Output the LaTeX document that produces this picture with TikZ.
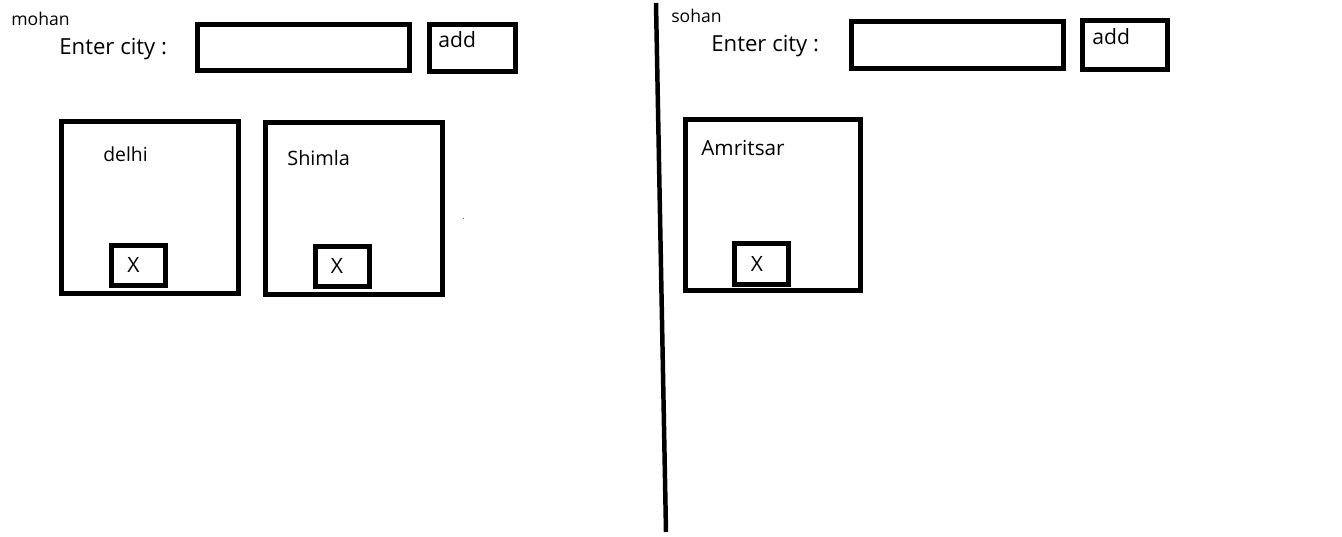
\documentclass[tikz,border=0pt]{standalone}
\usepackage{fontspec}
\setmainfont{Open Sans}
\begin{document}
\begin{tikzpicture}
[
	x=0.02cm,
	y=-0.02cm,
	frame/.style={draw,line width=2.55pt},
	usertext/.style={anchor=base west,inner sep=0pt,font=\fontsize{10}{12}\selectfont},
	fieldtext/.style={anchor=base west,inner sep=0pt,font=\fontsize{12.6}{15}\selectfont},
	citytext/.style={anchor=base west,inner sep=0pt,font=\fontsize{11.8}{14}\selectfont},
	closetext/.style={inner sep=0pt,font=\fontsize{12}{14}\selectfont}
]

	\useasboundingbox (0,0) rectangle (1342,537);

	% mohan panel
	\node[usertext] (mohan) at (11,26) {mohan};
	\node[fieldtext] (enterL) at (59,55) {Enter city :};
	\draw[frame] (197.5,24.5) rectangle (409.5,70.5);
	\draw[frame] (429.5,24.5) rectangle (515.5,71.5);
	\node[fieldtext,font=\fontsize{12}{14}\selectfont] (addL) at (438,48) {add};

	\draw[frame] (61.5,121.5) rectangle (238.5,293.5);
	\node[citytext,font=\fontsize{11}{13}\selectfont] (delhi) at (103,161) {delhi};
	\draw[frame] (111.5,245.5) rectangle (165.5,285.5);
	\node[closetext] (delhiX) at (133.5,264.5) {X};

	\draw[frame] (265.5,122.5) rectangle (442.5,294.5);
	\node[citytext,font=\fontsize{11.3}{13}\selectfont] (shimla) at (287,165) {Shimla};
	\draw[frame] (315.5,246.5) rectangle (369.5,286.5);
	\node[closetext] (shimlaX) at (337,265.5) {X};

	\fill[black!60] (462.5,217.5) rectangle (464,219);

	% divider
	\draw[line width=2.55pt] (656,3) -- (666,532);

	% sohan panel
	\node[usertext] (sohan) at (671,23) {sohan};
	\node[fieldtext] (enterR) at (711,52) {Enter city :};
	\draw[frame] (851.5,21.5) rectangle (1063.5,68.5);
	\draw[frame] (1082.5,20.5) rectangle (1167.5,69.5);
	\node[fieldtext,font=\fontsize{12}{14}\selectfont] (addR) at (1092,45) {add};

	\draw[frame] (685.5,119.5) rectangle (860.5,290.5);
	\node[citytext] (amritsar) at (701,155) {Amritsar};
	\draw[frame] (734.5,243.5) rectangle (788.5,284.5);
	\node[closetext] (amritsarX) at (757,264) {X};

\end{tikzpicture}
\end{document}
